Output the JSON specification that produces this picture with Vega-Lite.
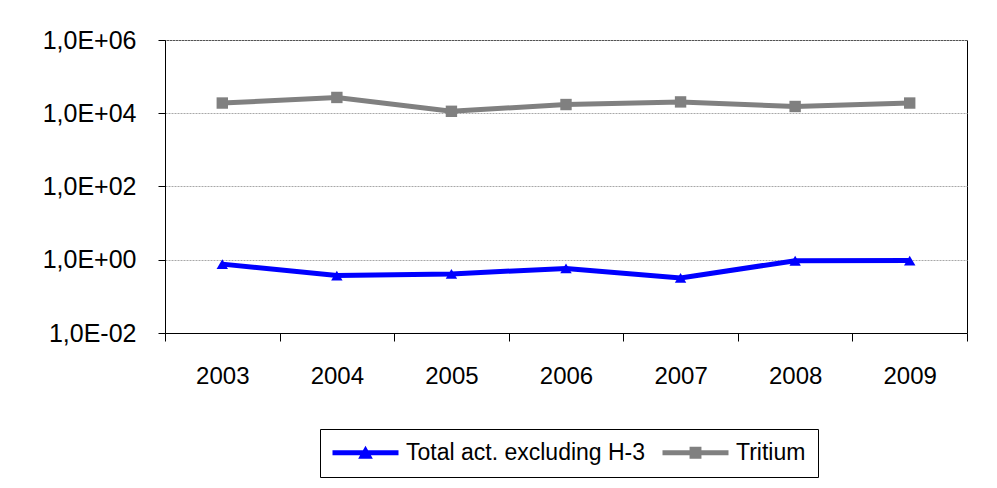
{
  "$schema": "https://vega.github.io/schema/vega-lite/v6.json",
  "autosize": {"type": "none"},
  "width": 802,
  "height": 293,
  "padding": {"left": 165, "top": 40, "right": 30, "bottom": 155},
  "background": "white",
  "config": {
    "view": {"stroke": "#000000", "strokeWidth": 1},
    "font": "Liberation Sans"
  },
  "data": {
    "values": [
      {"year": "2003", "series": "Total act. excluding H-3", "value": 0.76},
      {"year": "2004", "series": "Total act. excluding H-3", "value": 0.37},
      {"year": "2005", "series": "Total act. excluding H-3", "value": 0.41},
      {"year": "2006", "series": "Total act. excluding H-3", "value": 0.58},
      {"year": "2007", "series": "Total act. excluding H-3", "value": 0.32},
      {"year": "2008", "series": "Total act. excluding H-3", "value": 0.94},
      {"year": "2009", "series": "Total act. excluding H-3", "value": 0.95},
      {"year": "2003", "series": "Tritium", "value": 19000},
      {"year": "2004", "series": "Tritium", "value": 27000},
      {"year": "2005", "series": "Tritium", "value": 11300},
      {"year": "2006", "series": "Tritium", "value": 17300},
      {"year": "2007", "series": "Tritium", "value": 20400},
      {"year": "2008", "series": "Tritium", "value": 15300},
      {"year": "2009", "series": "Tritium", "value": 19000}
    ]
  },
  "encoding": {
    "x": {
      "field": "year",
      "type": "ordinal",
      "bandPosition": 0.5,
      "scale": {"type": "band", "paddingInner": 0, "paddingOuter": 0},
      "axis": {
        "title": null,
        "labelAngle": 0,
        "tickBand": "extent",
        "tickSize": 8,
        "tickColor": "#000000",
        "domainColor": "#000000",
        "labelFont": "Liberation Sans",
        "labelFontSize": 24,
        "labelColor": "#000000",
        "labelPadding": 23,
        "grid": false
      }
    },
    "y": {
      "field": "value",
      "type": "quantitative",
      "scale": {"type": "log", "domain": [0.01, 1000000], "nice": false},
      "axis": {
        "title": null,
        "values": [0.01, 1, 100, 10000, 1000000],
        "labelExpr": "'1,0E' + (datum.value < 1 ? '-' : '+') + '0' + abs(round(log(datum.value)/LN10))",
        "tickSize": 7,
        "tickColor": "#000000",
        "domainColor": "#000000",
        "labelFont": "Liberation Sans",
        "labelFontSize": 25,
        "labelColor": "#000000",
        "labelPadding": 22,
        "grid": true,
        "gridColor": "#a8a8a8",
        "gridDash": [2, 1],
        "gridWidth": 1
      }
    },
    "color": {
      "field": "series",
      "type": "nominal",
      "scale": {"domain": ["Total act. excluding H-3", "Tritium"], "range": ["#0000ff", "#808080"]},
      "legend": {
        "title": null,
        "orient": "none",
        "legendX": 155,
        "legendY": 389,
        "direction": "horizontal",
        "strokeColor": "#000000",
        "fillColor": "#ffffff",
        "padding": 12,
        "columnPadding": 16,
        "labelFont": "Liberation Sans",
        "labelFontSize": 23,
        "labelColor": "#000000",
        "labelLimit": 0,
        "symbolSize": 196,
        "symbolOffset": 22,
        "labelOffset": 29,
        "encode": {
          "symbols": {
            "update": {
              "shape": {"signal": "datum.value === 'Tritium' ? 'M-4.714,-0.357L4.714,-0.357L4.714,0.357L-4.714,0.357Z M-0.85,-0.85L0.85,-0.85L0.85,0.85L-0.85,0.85Z' : 'M-4.714,-0.357L4.714,-0.357L4.714,0.357L-4.714,0.357Z M-1.05,0.86L0,-1.0L1.05,0.86Z'"},
              "size": {"value": 196},
              "fill": {"scale": "color", "field": "value"},
              "stroke": {"value": "transparent"},
              "strokeWidth": {"value": 0},
              "opacity": {"value": 1}
            }
          }
        }
      }
    }
  },
  "layer": [
    {
      "mark": {"type": "line", "strokeWidth": 5}
    },
    {
      "transform": [{"filter": "datum.series === 'Total act. excluding H-3'"}],
      "mark": {"type": "point", "filled": true, "size": 130, "opacity": 1, "shape": "triangle-up"}
    },
    {
      "transform": [{"filter": "datum.series === 'Tritium'"}],
      "mark": {"type": "point", "filled": true, "size": 130, "opacity": 1, "shape": "square"}
    }
  ]
}
